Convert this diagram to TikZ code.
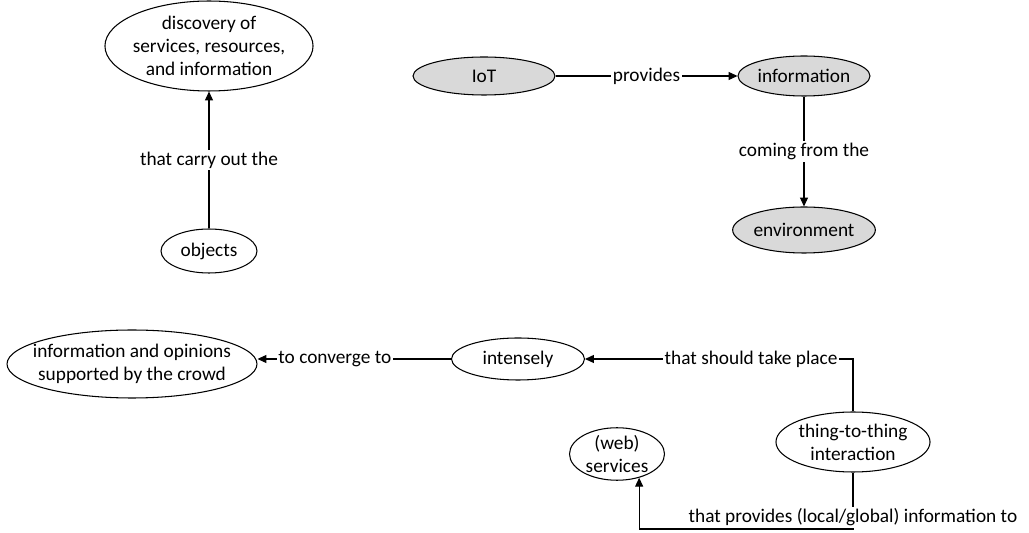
\documentclass[tikz,border=0pt]{standalone}
\usepackage{fontspec}
\setmainfont{Carlito}
\usepackage{xcolor}
\definecolor{NodeGray}{HTML}{D9D9D9}
\usetikzlibrary{arrows.meta, positioning, shapes.geometric, calc}
\tikzset{
  concept/.style={
    ellipse, draw, line width=0.6pt,
    minimum width=#1, align=center,
    inner sep=0pt, font=\fontsize{11}{13}\selectfont
  },
  concept/.default=2cm,
  grayConcept/.style={concept=#1, fill=NodeGray},
  lbl/.style={fill=white, inner sep=1pt, font=\fontsize{11}{13}\selectfont},
  arr/.style={-{Triangle[length=5pt, width=4.5pt]}, line width=0.6pt},
  link/.style={line width=0.6pt},
}
\begin{document}
\begin{tikzpicture}[x=0.02cm, y=-0.02cm]

\useasboundingbox (0,0) rectangle (1029,533);

% concepts, placed at pixel positions of the map
\node[concept=4.16cm, minimum height=1.8cm, inner xsep=-1.5pt] at (209,46) (disc) {discovery of\\services, resources,\\and information};
\node[concept=1.92cm, minimum height=0.88cm] at (209,251) (obj) {objects};

\node[grayConcept=2.84cm, minimum height=0.76cm] at (484,76) (iot) {IoT};
\node[grayConcept=2.64cm, minimum height=0.8cm] at (804,76) (info) {information};
\node[grayConcept=2.84cm, minimum height=0.92cm] at (804,230) (env) {environment};

\node[concept=5cm, minimum height=1.36cm, inner xsep=-6.9pt] at (132,364) (crowd) {information and opinions\\supported by the crowd};
\node[concept=2.66cm, minimum height=0.84cm] at (518,359) (int) {intensely};

\node[concept=3.06cm, minimum height=1.2cm] at (853,442) (tt) {thing-to-thing\\interaction};
\node[concept=1.9cm, minimum height=1cm] at (617,454) (ws) {(web)\\services};

\coordinate (bend) at (853,529);

% links
\draw[arr] (obj) -- node[lbl]{that carry out the} (disc);
\draw[arr] (iot) -- node[lbl]{provides} (info);
\draw[arr] (info) -- node[lbl]{coming from the} (env);
\draw[arr] (int.west) -- node[lbl, pos=0.6]{to converge to} (int.west -| crowd.east);
\draw[arr] (tt.north) |- node[lbl, pos=0.69]{that should take place} (int.east);
\draw[arr] (tt.south) -- node[lbl, pos=0.79]{that provides (local/global) information to} (bend) -| (ws.-47);

\end{tikzpicture}
\end{document}
